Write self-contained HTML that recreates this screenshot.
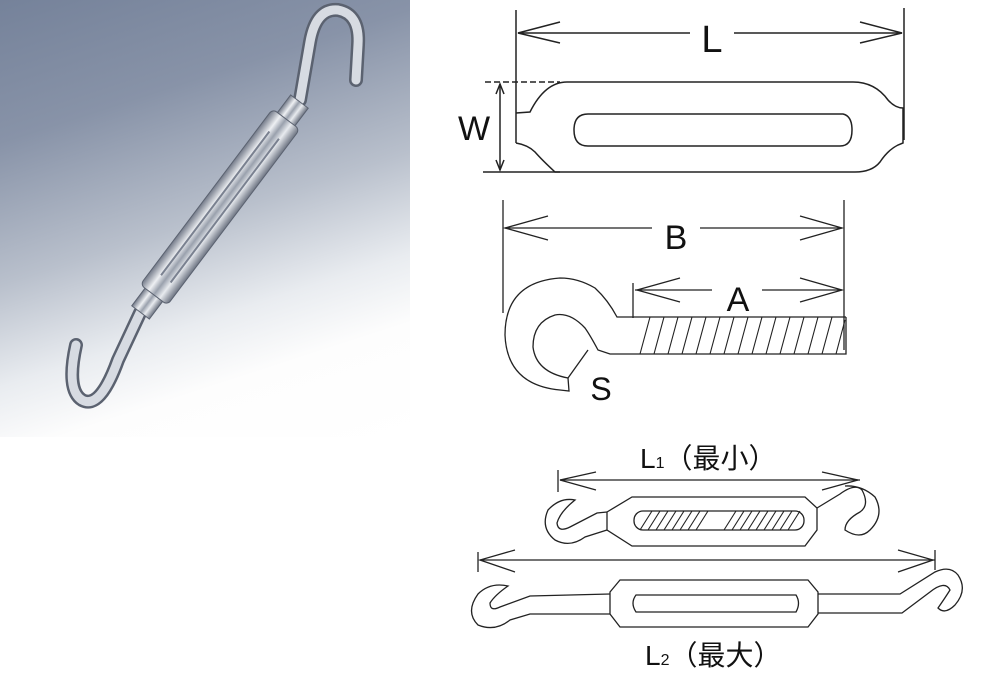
<!DOCTYPE html>
<html><head><meta charset="utf-8"><style>
html,body{margin:0;padding:0;background:#fff;width:1000px;height:700px;overflow:hidden}
#photo{position:absolute;left:0;top:0;width:410px;height:437px;background:linear-gradient(162deg,#75829a 0%,#8893a8 25%,#b9c0cc 50%,#e9ecf0 68%,#fdfdfd 80%,#fff 100%)}
svg{position:absolute;left:0;top:0}
text{font-family:"Liberation Sans","Noto Sans CJK JP",sans-serif;fill:#111}
</style></head><body>
<div id="photo"></div>
<svg width="1000" height="700" viewBox="0 0 1000 700">
<defs>
<linearGradient id="met" x1="0" y1="0" x2="0" y2="1">
<stop offset="0" stop-color="#6d7482"/><stop offset="0.3" stop-color="#e8ebef"/><stop offset="0.5" stop-color="#9aa1ad"/><stop offset="0.7" stop-color="#eef0f3"/><stop offset="1" stop-color="#727988"/>
</linearGradient>
</defs>
<!-- photo turnbuckle -->
<g fill="none" stroke-linecap="round">
<path d="M300,100 L310,42 Q316,8 338,10 Q360,14 358,45 L356,80" stroke="#5b6270" stroke-width="14"/>
<path d="M300,100 L310,42 Q316,8 338,10 Q360,14 358,45 L356,80" stroke="#d7dbe2" stroke-width="9"/>
<path d="M140,313 L118,360 Q100,410 82,400 Q66,390 76,345" stroke="#5b6270" stroke-width="14"/>
<path d="M140,313 L118,360 Q100,410 82,400 Q66,390 76,345" stroke="#d7dbe2" stroke-width="9"/>
</g>
<g transform="translate(220,207) rotate(127)">
<rect x="-132" y="-11" width="24" height="22" fill="url(#met)" stroke="#5b6270"/>
<rect x="108" y="-11" width="24" height="22" fill="url(#met)" stroke="#5b6270"/>
<rect x="-110" y="-17" width="220" height="34" rx="5" fill="url(#met)" stroke="#5b6270"/>
<line x1="-90" y1="-6" x2="90" y2="-6" stroke="#7a8190" stroke-width="2"/>
<line x1="-90" y1="6" x2="90" y2="6" stroke="#7a8190" stroke-width="2"/>
</g>
<!-- drawing 1 -->
<g stroke="#222" stroke-width="1.5" fill="none">
<line x1="516" y1="10" x2="516" y2="143"/>
<line x1="904" y1="8" x2="904" y2="140"/>
<line x1="518" y1="33" x2="690" y2="33"/><line x1="734" y1="33" x2="902" y2="33"/>
<path d="M560,22 L518,33 L560,43 M860,22 L902,33 L860,43"/>
<path d="M516,113 L530,112 Q545,82 567,82 L853,82 Q875,82 888,100 Q895,108 903,108 L903,143 L898,145 Q888,150 880,162 Q872,172 855,172 L555,172 Q542,160 535,152 Q528,145 516,143"/>
<path d="M588,114 L843,114 Q852,116 852,130 Q852,146 840,146 L588,146 Q574,146 574,130 Q574,114 588,114 Z"/>
<line x1="485" y1="82" x2="560" y2="82" stroke-dasharray="6,3"/>
<line x1="483" y1="172" x2="560" y2="172"/>
<line x1="500" y1="84" x2="500" y2="170"/>
<path d="M496,94 L500,84 L504,94 M496,160 L500,170 L504,160"/>
</g>
<text x="712" y="52" font-size="38" text-anchor="middle">L</text>
<text x="474" y="140" font-size="34" text-anchor="middle">W</text>
<!-- drawing 2 -->
<g stroke="#222" stroke-width="1.3" fill="none">
<line x1="503" y1="200" x2="503" y2="313"/>
<line x1="844" y1="200" x2="844" y2="350"/>
<line x1="505" y1="228" x2="652" y2="228"/><line x1="700" y1="228" x2="842" y2="228"/>
<path d="M548,216 L505,228 L548,240 M800,216 L842,228 L800,240"/>
<line x1="633" y1="283" x2="633" y2="318"/>
<line x1="635" y1="290" x2="712" y2="290"/><line x1="762" y1="290" x2="842" y2="290"/>
<path d="M680,278 L637,290 L680,302 M800,278 L842,290 L800,302"/>
<path d="M846,317 L617,317 Q608,300 595,288 Q578,278 560,278 Q505,282 505,335 Q507,385 560,390 L569,391 L568,378"/>
<path d="M846,317 L846,354 L610,354 L598,350 Q590,335 585,328 Q570,312 555,315 Q533,322 533,347 Q536,372 568,378"/>
<line x1="588" y1="350" x2="568" y2="378"/>
<g stroke-width="1.1">
<path d="M640,354 L650,317 M654,354 L664,317 M668,354 L678,317 M682,354 L692,317 M696,354 L706,317 M710,354 L720,317 M724,354 L734,317 M738,354 L748,317 M752,354 L762,317 M766,354 L776,317 M780,354 L790,317 M794,354 L804,317 M808,354 L818,317 M822,354 L832,317 M836,354 L845,320"/>
</g>
</g>
<text x="676" y="249" font-size="34" text-anchor="middle">B</text>
<text x="738" y="311" font-size="34" text-anchor="middle">A</text>
<text x="601" y="400" font-size="32" text-anchor="middle">S</text>
<!-- drawing 3 -->
<g stroke="#222" stroke-width="1.3" fill="none">
<line x1="558" y1="470" x2="558" y2="492"/>
<line x1="560" y1="480" x2="860" y2="480"/>
<path d="M596,472 L560,480 L596,490 M822,472 L858,480 L822,490"/>
<path d="M607,512 L632,497 L805,497 L817,508 L817,530 L805,546 L632,546 L607,530 Z"/>
<path d="M607,512 L597,513 L570,527 Q558,533 557,523 Q560,512 575,500 Q560,497 548,510 Q540,528 555,540 Q570,548 585,537 L607,530"/>
<path d="M817,508 L840,494 Q855,483 862,490 Q870,505 860,512 Q845,520 845,530 Q860,540 870,530 Q885,515 875,497 Q862,485 845,486"/>
<rect x="634" y="511" width="170" height="19" rx="9"/>
<g stroke-width="1.1">
<path d="M640,530 L652,511 M648,530 L660,511 M656,530 L668,511 M664,530 L676,511 M672,530 L684,511 M680,530 L692,511 M688,530 L700,511 M696,530 L708,511 M724,530 L736,511 M732,530 L744,511 M740,530 L752,511 M748,530 L760,511 M756,530 L768,511 M764,530 L776,511 M772,530 L784,511 M780,530 L792,511 M788,530 L800,511"/>
</g>
<line x1="478" y1="552" x2="478" y2="572"/>
<line x1="480" y1="560" x2="935" y2="560"/>
<line x1="935" y1="550" x2="935" y2="570"/>
<path d="M515,550 L480,560 L515,572 M898,550 L933,560 L898,572"/>
<path d="M610,592 L620,580 L808,580 L818,592 L818,614 L808,627 L620,627 L610,614 Z"/>
<path d="M636,595 L796,595 Q801,603 796,612 L636,612 Q630,603 636,595 Z"/>
<path d="M610,594 L530,596 L500,607 Q490,612 490,603 Q495,595 508,586 Q490,582 478,594 Q465,612 478,625 Q495,632 510,620 L530,614 L610,614"/>
<path d="M818,594 L900,594 L935,572 Q950,565 958,575 Q968,590 955,605 Q945,615 938,608 Q945,598 950,590 Q945,580 930,592 L902,613 L818,613"/>
</g>
<text x="640" y="468" font-size="28">L<tspan font-size="16">1</tspan>（最小）</text>
<text x="645" y="665" font-size="28">L<tspan font-size="16">2</tspan>（最大）</text>
</svg>
</body></html>
